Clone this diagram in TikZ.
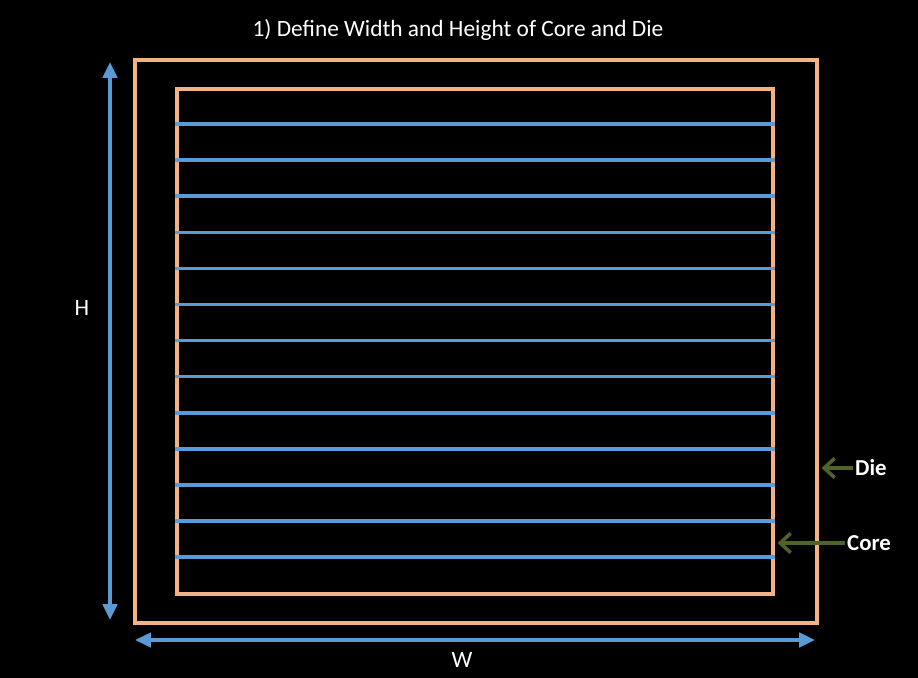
\documentclass[tikz,border=0pt]{standalone}
\usepackage{fontspec}
\setmainfont{Carlito}
\usepackage{xcolor}
\definecolor{fpcore}{RGB}{244,177,131}
\definecolor{fprail}{RGB}{91,155,213}
\definecolor{fpnote}{RGB}{79,98,40}
\usetikzlibrary{arrows.meta,positioning}

\begin{document}
\begin{tikzpicture}[x=0.02cm, y=-0.02cm,
  diebox/.style={rectangle, draw=fpcore, line width=2.2pt, inner sep=0pt,
                 minimum width=13.64cm, minimum height=11.26cm},
  corebox/.style={rectangle, draw=fpcore, line width=2.2pt, inner sep=0pt,
                  minimum width=11.92cm, minimum height=10.1cm},
  rail/.style={draw=fprail, line width=2pt},
  dimarr/.style={{Triangle[length=9pt,width=8pt]}-{Triangle[length=9pt,width=8pt]},
                 draw=fprail, fill=fprail, line width=2.2pt},
  lblarr/.style={-{Straight Barb[length=6pt,width=11pt]}, draw=fpnote, line width=2pt},
  txt/.style={text=white, font=\fontsize{13.3}{16}\selectfont},
  tag/.style={text=white, font=\fontsize{13}{15}\selectfont\bfseries, anchor=west}
]
% Background
\fill[black] (0,0) rectangle (918,678);
\useasboundingbox (0,0) rectangle (918,678);

% Title
\node[txt] (title) at (458,30) {1) Define Width and Height of Core and Die};

% Die and core
\node[diebox] (die) at (476,341.5) {};
\node[corebox] (core) at (475,341.5) {};

% Rows
\foreach \i in {0,...,12}
  \draw[rail] (core.west |- 0,{124+36.1*\i}) -- (core.east |- 0,{124+36.1*\i});

% Dimensions
\coordinate (htop) at (110,62);
\coordinate (hbot) at (110,620);
\coordinate (wlft) at (135,640);
\coordinate (wrgt) at (815,640);
\draw[dimarr] (htop) -- (hbot);
\draw[dimarr] (wlft) -- (wrgt);
\node[txt] (hlbl) at (82,308) {H};
\node[txt] (wlbl) at (462,660) {W};

% Labels
\node[tag] (dielbl)  at (849,468) {Die};
\node[tag] (corelbl) at (841,543) {Core};
\draw[lblarr] ([xshift=2pt]dielbl.west) -- ([xshift=1.5pt]dielbl.west -| die.east);
\draw[lblarr] ([xshift=2pt]corelbl.west) -- ([xshift=1.5pt]corelbl.west -| core.east);
\end{tikzpicture}
\end{document}
